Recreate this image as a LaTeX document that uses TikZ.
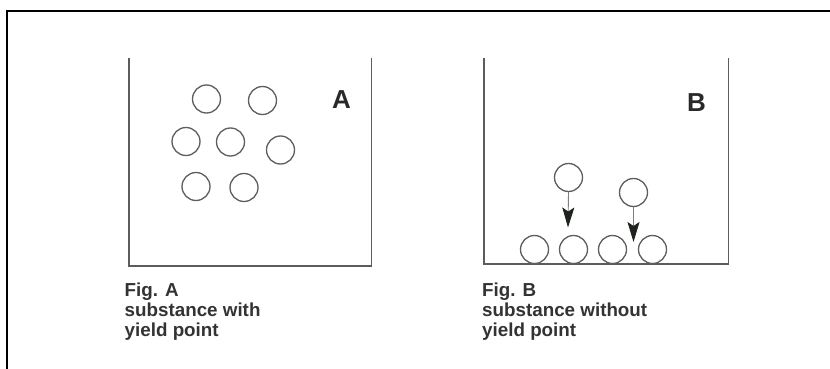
\documentclass[tikz,border=0pt]{standalone}
\usepackage{fontspec}
\setmainfont{Liberation Sans}
\usetikzlibrary{arrows.meta}
\definecolor{wallgray}{HTML}{5C5C5C}
\definecolor{ballgray}{HTML}{5E5E5E}
\definecolor{textgray}{HTML}{333333}
\definecolor{tipdark}{HTML}{1E231E}
\begin{document}
\begin{tikzpicture}[x=1pt,y=-1pt,
  wall/.style={draw=wallgray,line width=1.4pt},
  ball/.style={circle,draw=ballgray,line width=1.3pt,minimum size=28pt,inner sep=0pt},
  tag/.style={font=\bfseries\fontsize{26}{26}\selectfont,text=textgray!80!black,inner sep=0pt},
  caption/.style={font=\bfseries\fontsize{18.8}{20}\selectfont,text=textgray,align=left,anchor=north west,inner sep=0pt},
  fall/.style={draw=ballgray!80,line width=0.9pt,-{Stealth[length=20pt,width=12pt,inset=4pt,color=tipdark]}},
  frame/.style={draw=black,line width=2pt}
]
\useasboundingbox (0,0) rectangle (830,369);

% outer frame (top and left edges only)
\draw[frame] (830,11.5) -- (6.5,11.5) -- (6.5,369);

% ---- container A: particles held in suspension ----
\draw[wall] (129,58) -- (129,266) -- (371.5,266) -- (371.5,58);
\node[tag] (labA) at (341.5,99.5) {A};
\node[ball] (a1) at (206.5,99) {};
\node[ball] (a2) at (262.5,100.5) {};
\node[ball] (a3) at (186,141.5) {};
\node[ball] (a4) at (230.5,142) {};
\node[ball] (a5) at (280.5,150) {};
\node[ball] (a6) at (196,186.5) {};
\node[ball] (a7) at (244,187.5) {};
\node[caption] (capA) at (124.5,283) {Fig. A\\substance with\\yield point};

% ---- container B: particles settling to the bottom ----
\draw[wall] (484,58) -- (484,264) -- (728.5,264) -- (728.5,58);
\node[tag] (labB) at (696.5,103) {B};
\node[ball] (b1) at (534.5,249.5) {};
\node[ball] (b2) at (573.5,249.5) {};
\node[ball] (b3) at (612.5,249.5) {};
\node[ball] (b4) at (652.5,249.5) {};
\node[ball] (u1) at (568.5,177.5) {};
\node[ball] (u2) at (633.5,192.5) {};
\coordinate (t1) at (568,227.5);
\coordinate (t2) at (633.5,242);
\draw[fall] (u1.south) -- (t1);
\draw[fall] (u2.south) -- (t2);
\node[caption] (capB) at (482,283) {Fig. B\\substance without\\yield point};
\end{tikzpicture}
\end{document}
